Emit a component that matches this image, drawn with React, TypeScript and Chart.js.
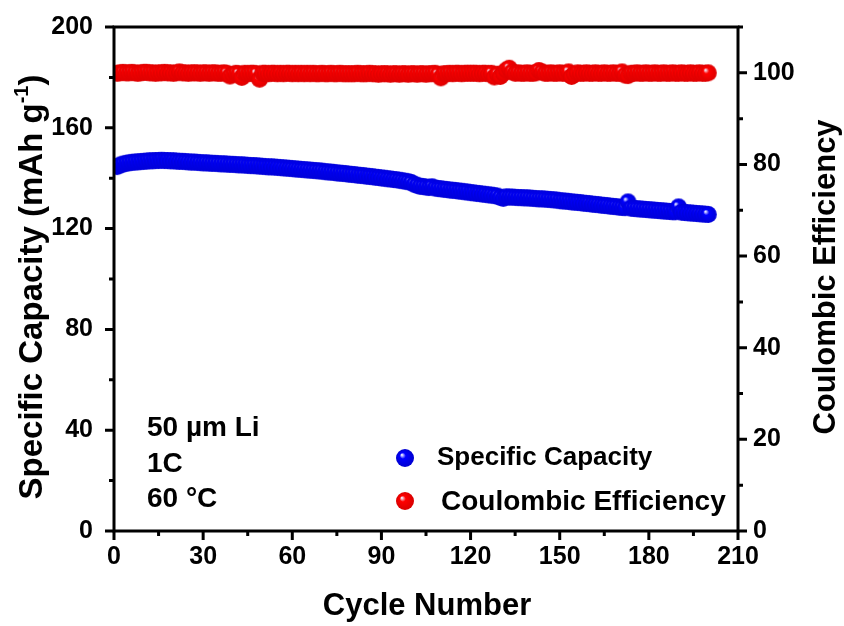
import React, { useEffect, useRef } from "react";
import { Chart, registerables } from "chart.js";

Chart.register(...registerables);

const cycles: number[] = Array.from({ length: 200 }, (_, i) => i + 1);

const specificCapacity: number[] = [
  144.6, 145.2, 145.6, 145.9, 146.1, 146.3, 146.4, 146.5, 146.6, 146.7,
  146.8, 146.9, 146.9, 147.0, 147.0, 147.1, 147.0, 147.0, 146.9, 146.9,
  146.8, 146.7, 146.7, 146.6, 146.5, 146.4, 146.4, 146.3, 146.2, 146.1,
  146.1, 146.0, 145.9, 145.9, 145.8, 145.7, 145.7, 145.6, 145.5, 145.5,
  145.4, 145.3, 145.3, 145.2, 145.1, 145.0, 145.0, 144.9, 144.8, 144.7,
  144.6, 144.5, 144.5, 144.4, 144.3, 144.2, 144.1, 144.0, 143.9, 143.8,
  143.7, 143.6, 143.5, 143.4, 143.3, 143.2, 143.1, 143.0, 142.9, 142.8,
  142.6, 142.5, 142.4, 142.3, 142.1, 142.0, 141.9, 141.8, 141.6, 141.5,
  141.4, 141.2, 141.1, 141.0, 140.8, 140.7, 140.6, 140.4, 140.3, 140.1,
  140.0, 139.8, 139.7, 139.5, 139.4, 139.2, 139.0, 138.8, 138.6, 138.3,
  137.6, 137.2, 136.8, 136.7, 136.5, 136.3, 136.6, 136.1, 135.9, 135.8,
  135.6, 135.5, 135.3, 135.2, 135.1, 134.9, 134.8, 134.6, 134.5, 134.3,
  134.2, 134.0, 133.9, 133.7, 133.6, 133.4, 133.3, 133.1, 132.9, 132.4,
  132.0, 132.6, 132.5, 132.5, 132.4, 132.3, 132.3, 132.2, 132.2, 132.1,
  132.0, 131.9, 131.8, 131.8, 131.7, 131.6, 131.5, 131.4, 131.3, 131.1,
  131.0, 130.9, 130.8, 130.6, 130.5, 130.4, 130.3, 130.1, 130.0, 129.9,
  129.7, 129.6, 129.5, 129.3, 129.2, 129.1, 128.9, 128.8, 128.7, 128.5,
  128.4, 128.3, 130.6, 128.1, 128.0, 127.9, 127.8, 127.7, 127.6, 127.5,
  127.4, 127.3, 127.2, 127.1, 127.0, 126.9, 126.8, 126.7, 126.7, 128.6,
  126.5, 126.4, 126.3, 126.2, 126.1, 126.0, 125.9, 125.8, 125.7, 125.6,
];

const coulombicEfficiency: number[] = [
  99.9, 100.0, 100.1, 100.0, 100.0, 100.1, 100.0, 99.9, 100.0, 100.1,
  100.1, 100.0, 100.0, 99.9, 100.0, 100.0, 100.1, 100.0, 100.0, 99.9,
  100.0, 100.2, 100.0, 100.0, 99.9, 100.0, 100.0, 100.0, 99.9, 100.0,
  100.0, 99.9, 100.0, 100.0, 99.9, 99.9, 100.0, 99.9, 99.3, 99.6,
  99.9, 99.8, 99.0, 99.9, 99.8, 99.9, 99.9, 99.8, 98.6, 99.9,
  99.9, 99.8, 99.9, 99.9, 99.8, 99.9, 99.8, 99.9, 99.9, 99.8,
  99.9, 99.8, 99.9, 99.8, 99.9, 99.8, 99.9, 99.8, 99.8, 99.9,
  99.8, 99.8, 99.9, 99.8, 99.8, 99.9, 99.8, 99.8, 99.8, 99.8,
  99.8, 99.9, 99.8, 99.8, 99.8, 99.9, 99.8, 99.8, 99.7, 99.8,
  99.8, 99.8, 99.7, 99.8, 99.8, 99.7, 99.8, 99.8, 99.7, 99.8,
  99.8, 99.7, 99.8, 99.8, 99.7, 99.8, 99.8, 99.9, 99.7, 98.9,
  99.8, 99.8, 99.9, 99.8, 99.9, 99.9, 99.8, 99.9, 99.9, 99.9,
  99.9, 99.9, 99.8, 99.9, 99.9, 99.8, 99.9, 99.1, 99.7, 99.2,
  99.9, 100.6, 101.0, 100.2, 99.9, 100.0, 99.9, 99.9, 100.0, 99.9,
  99.9, 100.0, 100.5, 100.2, 99.9, 99.9, 100.0, 99.9, 99.9, 100.0,
  99.9, 99.9, 100.2, 99.2, 99.7, 100.0, 99.9, 99.9, 100.0, 99.9,
  99.9, 100.0, 99.9, 99.9, 100.0, 99.9, 99.9, 100.0, 99.9, 99.9,
  100.2, 99.5, 99.4, 99.9, 99.9, 100.0, 99.9, 99.9, 100.0, 99.9,
  99.9, 100.0, 99.9, 99.9, 100.0, 99.9, 99.9, 100.0, 99.9, 99.9,
  100.0, 99.9, 99.9, 100.0, 99.9, 99.9, 100.0, 99.9, 99.9, 100.0,
];

const xMajorTicks: number[] = [0, 30, 60, 90, 120, 150, 180, 210];
const xMinorTicks: number[] = [15, 45, 75, 105, 135, 165, 195];
const yMajorTicks: number[] = [0, 40, 80, 120, 160, 200];
const yMinorTicks: number[] = [20, 60, 100, 140, 180];
const y2MajorTicks: number[] = [0, 20, 40, 60, 80, 100];
const y2MinorTicks: number[] = [10, 30, 50, 70, 90, 110];

const seriesNames: string[] = ["Specific Capacity", "Coulombic Efficiency"];
const noteLines: string[] = ["50 \u00b5m Li", "1C", "60 \u00b0C"];
const xTitle = "Cycle Number";
const yTitle = "Specific Capacity (mAh g";
const y2Title = "Coulombic Efficiency";

const FONT = 'Arial, "Liberation Sans", sans-serif';
const BLUE = "#0000ff";
const RED = "#ff0000";

function makeSphere(color: string, dark: string, r: number): HTMLCanvasElement {
  const s = Math.ceil(r * 2 + 2);
  const c = document.createElement("canvas");
  c.width = s;
  c.height = s;
  const g = c.getContext("2d")!;
  const cx = s / 2;
  const grad = g.createRadialGradient(cx - r * 0.35, cx - r * 0.35, r * 0.05, cx, cx, r);
  grad.addColorStop(0, "#eeeeff");
  grad.addColorStop(0.3, color);
  grad.addColorStop(1, dark);
  g.fillStyle = grad;
  g.beginPath();
  g.arc(cx, cx, r, 0, Math.PI * 2);
  g.fill();
  return c;
}

export default function App() {
  const ref = useRef<HTMLCanvasElement | null>(null);

  useEffect(() => {
    if (!ref.current) return;
    const blueSphere = makeSphere(BLUE, "#0000d8", 8.5);
    const redSphere = makeSphere(RED, "#dd0000", 8.5);
    const blueBig = makeSphere(BLUE, "#0000d0", 9);
    const redBig = makeSphere(RED, "#d80000", 9);

    const decor = {
      id: "decor",
      afterDraw(chart: any) {
        const { ctx, chartArea: a, scales } = chart;
        const sx = scales.x, sy = scales.y, sy2 = scales.y2;
        ctx.save();
        ctx.strokeStyle = "#000";
        ctx.lineWidth = 3;
        ctx.strokeRect(a.left, a.top, a.right - a.left, a.bottom - a.top);
        ctx.beginPath();
        const MAJ = 9, MIN = 5;
        xMajorTicks.forEach((v) => { const p = sx.getPixelForValue(v); ctx.moveTo(p, a.bottom); ctx.lineTo(p, a.bottom + MAJ); });
        xMinorTicks.forEach((v) => { const p = sx.getPixelForValue(v); ctx.moveTo(p, a.bottom); ctx.lineTo(p, a.bottom + MIN); });
        yMajorTicks.forEach((v) => { const p = sy.getPixelForValue(v); ctx.moveTo(a.left, p); ctx.lineTo(a.left - MAJ, p); });
        yMinorTicks.forEach((v) => { const p = sy.getPixelForValue(v); ctx.moveTo(a.left, p); ctx.lineTo(a.left - MIN, p); });
        y2MajorTicks.forEach((v) => { const p = sy2.getPixelForValue(v); ctx.moveTo(a.right, p); ctx.lineTo(a.right + MAJ, p); });
        y2MinorTicks.forEach((v) => { const p = sy2.getPixelForValue(v); ctx.moveTo(a.right, p); ctx.lineTo(a.right + MIN, p); });
        ctx.stroke();

        ctx.fillStyle = "#000";
        // x title
        ctx.font = `bold 31px ${FONT}`;
        ctx.textAlign = "center";
        ctx.textBaseline = "middle";
        ctx.fillText(xTitle, 427, 606);

        // left title with superscript
        ctx.save();
        ctx.translate(30, 287);
        ctx.rotate(-Math.PI / 2);
        ctx.font = `bold 33px ${FONT}`;
        const w1 = ctx.measureText(yTitle).width;
        ctx.font = `bold 20px ${FONT}`;
        const w2 = ctx.measureText("-1").width;
        ctx.font = `bold 33px ${FONT}`;
        const w3 = ctx.measureText(")").width;
        const total = w1 + w2 + w3;
        const x0 = -total / 2;
        ctx.textAlign = "left";
        ctx.textBaseline = "alphabetic";
        ctx.fillText(yTitle, x0, 12);
        ctx.font = `bold 20px ${FONT}`;
        ctx.fillText("-1", x0 + w1, -2);
        ctx.font = `bold 33px ${FONT}`;
        ctx.fillText(")", x0 + w1 + w2, 12);
        ctx.restore();

        // right title
        ctx.save();
        ctx.translate(826, 277);
        ctx.rotate(-Math.PI / 2);
        ctx.font = `bold 31px ${FONT}`;
        ctx.textAlign = "center";
        ctx.textBaseline = "middle";
        ctx.fillText(y2Title, 0, 0);
        ctx.restore();

        // notes
        ctx.font = `bold 28px ${FONT}`;
        ctx.textAlign = "left";
        ctx.textBaseline = "middle";
        const noteY = [428, 464, 499];
        noteLines.forEach((t, i) => ctx.fillText(t, 147, noteY[i]));

        // legend
        ctx.drawImage(blueBig, 405 - 10, 458 - 10);
        ctx.drawImage(redBig, 405 - 10, 501 - 10);
        ctx.font = `bold 26px ${FONT}`;
        ctx.fillText(seriesNames[0], 437, 458);
        ctx.font = `bold 28px ${FONT}`;
        ctx.fillText(seriesNames[1], 441, 502);
        ctx.restore();
      },
    };

    const tickFont = { family: FONT, size: 25, weight: "bold" as const };

    const chart = new Chart(ref.current, {
      type: "scatter",
      data: {
        datasets: [
          {
            label: seriesNames[1],
            data: cycles.map((c, i) => ({ x: c, y: coulombicEfficiency[i] })),
            yAxisID: "y2",
            pointStyle: redSphere as any,
            pointRadius: 8,
            showLine: false,
          },
          {
            label: seriesNames[0],
            data: cycles.map((c, i) => ({ x: c, y: specificCapacity[i] })),
            yAxisID: "y",
            pointStyle: blueSphere as any,
            pointRadius: 8,
            showLine: false,
          },
        ],
      },
      options: {
        animation: false,
        responsive: false,
        devicePixelRatio: 1,
        layout: { padding: { top: 27, left: 0, right: 0, bottom: 0 } },
        plugins: { legend: { display: false }, tooltip: { enabled: false } },
        scales: {
          x: {
            type: "linear",
            min: 0,
            max: 210,
            afterBuildTicks: (s: any) => { s.ticks = xMajorTicks.map((v) => ({ value: v })); },
            ticks: { font: tickFont, color: "#000", padding: 11, maxRotation: 0, autoSkip: false },
            grid: { display: false, drawTicks: false },
            border: { display: false },
            afterFit: (s: any) => { s.height = 95; s.paddingLeft = 0; s.paddingRight = 0; },
          },
          y: {
            position: "left",
            min: 0,
            max: 200,
            afterBuildTicks: (s: any) => { s.ticks = yMajorTicks.map((v) => ({ value: v })); },
            ticks: { font: tickFont, color: "#000", padding: 21 },
            grid: { display: false, drawTicks: false },
            border: { display: false },
            afterFit: (s: any) => { s.width = 114; s.paddingTop = 0; s.paddingBottom = 0; },
          },
          y2: {
            position: "right",
            min: 0,
            max: 110,
            afterBuildTicks: (s: any) => { s.ticks = y2MajorTicks.map((v) => ({ value: v })); },
            ticks: { font: tickFont, color: "#000", padding: 15 },
            grid: { display: false, drawTicks: false },
            border: { display: false },
            afterFit: (s: any) => { s.width = 106; s.paddingTop = 0; s.paddingBottom = 0; },
          },
        },
      },
      plugins: [decor],
    });
    return () => chart.destroy();
  }, []);

  return (
    <div style={{ position: "absolute", left: 0, top: 0, width: 844, height: 626, background: "#fff" }}>
      <canvas ref={ref} width={844} height={626} />
    </div>
  );
}
